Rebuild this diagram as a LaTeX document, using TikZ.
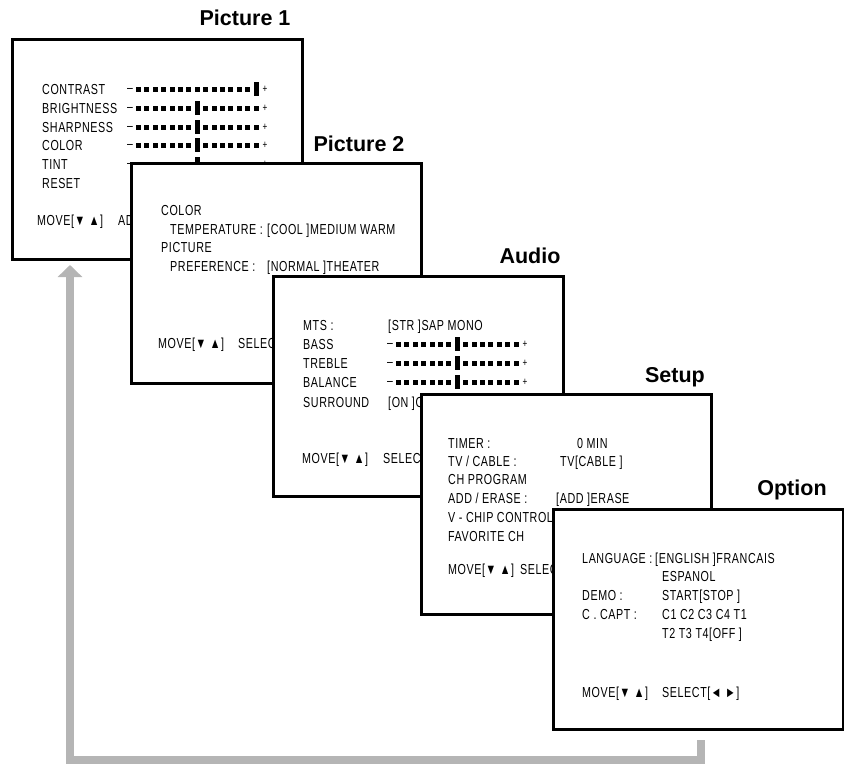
\documentclass[tikz,border=0pt]{standalone}
\usepackage{fontspec}
\setmainfont{Liberation Sans}
\newfontfamily\screenfont[FakeStretch=0.74, LetterSpace=4]{Liberation Sans}
\usetikzlibrary{arrows.meta}

\begin{document}
\begin{tikzpicture}[x=1pt, y=-1pt,
		screen/.style={draw, line width=2.5pt, fill=white, anchor=north west,
			minimum width=290pt, minimum height=220pt, inner sep=0pt},
		title/.style={anchor=base, inner sep=0pt, font=\fontsize{21.5}{24}\selectfont\bfseries},
		item/.style={anchor=west, inner sep=0pt, text height=10pt, text depth=0pt,
			font=\fontsize{14.5}{16}\screenfont},
		sign/.style={anchor=base, inner sep=0pt, font=\fontsize{11}{12}\screenfont},
		minus/.style={anchor=base, inner sep=0pt, font=\fontsize{14}{16}\screenfont},
		loop/.style={line width=8.5pt, draw=black!29, -{Triangle[length=12pt, width=24pt]}}]
	
	\useasboundingbox (0,0) rectangle (844,764);
	
	% Picture 1
	\node[title] (t1) at (245,25) {Picture 1};
	\node[screen] (pic1) at (11,38) {};
	\node[item] (contrast) at (42,89) {CONTRAST};
	\node[item] (bright) at (42,108) {BRIGHTNESS};
	\node[item] (sharp) at (42,127) {SHARPNESS};
	\node[item] (color) at (42,145) {COLOR};
	\node[item] (tint) at (42,164) {TINT};
	\node[item] (reset) at (42,183) {RESET};
	\node[item] (move1) at (37,220) {MOVE[▼ ▲]};
	\node[item] (adjust1) at (118,220) {ADJUST[◄ ►]};
	\foreach \y/\p in {89/14, 108/7, 127/7, 145/7, 164/7} {
		\node[minus] at (130,{\y+3.9}) {–};
		\foreach \k in {0,...,14}
			\fill ({136+8.4*\k},{\y-2.5}) rectangle ++(5,5);
		\fill ({136+8.4*\p},{\y-7}) rectangle ++(5,14);
		\node[sign] at (265,{\y+3.9}) {+};
	}
	
	% Picture 2
	\node[title] (t2) at (359,151) {Picture 2};
	\node[screen] (pic2) at (130,162) {};
	\node[item] (ctemp) at (161,210) {COLOR};
	\node[item] (temp) at (170,229) {TEMPERATURE :};
	\node[item] (tempval) at (267,229) {[COOL ]MEDIUM WARM};
	\node[item] (picpref) at (161,247) {PICTURE};
	\node[item] (pref) at (170,266) {PREFERENCE :};
	\node[item] (prefval) at (267,266) {[NORMAL ]THEATER};
	\node[item] (move2) at (158,343) {MOVE[▼ ▲]};
	\node[item] (select2) at (238,343) {SELECT[◄ ►]};
	
	% Audio
	\node[title] (t3) at (530,263) {Audio};
	\node[screen] (audio) at (272,275) {};
	\node[item] (mts) at (303,325) {MTS :};
	\node[item] (mtsval) at (388,325) {[STR ]SAP MONO};
	\node[item] (bass) at (303,344) {BASS};
	\node[item] (treble) at (303,363) {TREBLE};
	\node[item] (balance) at (303,382) {BALANCE};
	\node[item] (surround) at (303,402) {SURROUND};
	\node[item] (surval) at (388,402) {[ON ]OFF};
	\node[item] (move3) at (302,458) {MOVE[▼ ▲]};
	\node[item] (select3) at (383,458) {SELECT[◄ ►]};
	\foreach \y in {344, 363, 382} {
		\node[minus] at (390,{\y+3.9}) {–};
		\foreach \k in {0,...,14}
			\fill ({396+8.4*\k},{\y-2.5}) rectangle ++(5,5);
		\fill ({396+8.4*7},{\y-7}) rectangle ++(5,14);
		\node[sign] at (525,{\y+3.9}) {+};
	}
	
	% Setup
	\node[title] (t4) at (675,382) {Setup};
	\node[screen] (setup) at (420,393) {};
	\node[item] (timer) at (448,443) {TIMER :};
	\node[item] (timerval) at (577,443) {0 MIN};
	\node[item] (cable) at (448,461) {TV / CABLE :};
	\node[item] (cableval) at (560,461) {TV[CABLE ]};
	\node[item] (chprog) at (448,479) {CH PROGRAM};
	\node[item] (erase) at (448,498) {ADD / ERASE :};
	\node[item] (eraseval) at (556,498) {[ADD ]ERASE};
	\node[item] (vchip) at (448,517) {V - CHIP CONTROL};
	\node[item] (fav) at (448,536) {FAVORITE CH};
	\node[item] (move4) at (448,569) {MOVE[▼ ▲]};
	\node[item] (select4) at (520,569) {SELECT[◄ ►]};
	
	% Option
	\node[title] (t5) at (792,495) {Option};
	\node[screen] (option) at (552,508) {};
	\node[item] (lang) at (582,558) {LANGUAGE :};
	\node[item] (langval) at (655,558) {[ENGLISH ]FRANCAIS};
	\node[item] (espanol) at (662,576) {ESPANOL};
	\node[item] (demo) at (582,595) {DEMO :};
	\node[item] (demoval) at (662,595) {START[STOP ]};
	\node[item] (capt) at (582,614) {C . CAPT :};
	\node[item] (captval) at (662,614) {C1 C2 C3 C4 T1};
	\node[item] (captval2) at (662,633) {T2 T3 T4[OFF ]};
	\node[item] (move5) at (582,692) {MOVE[▼ ▲]};
	\node[item] (select5) at (662,692) {SELECT[◄ ►]};
	
	% back to the first menu
	\coordinate (back) at (701,740);
	\coordinate (again) at (70,265);
	\draw[loop] (back) -- ++(0,20) -| (again);
	
\end{tikzpicture}
\end{document}
